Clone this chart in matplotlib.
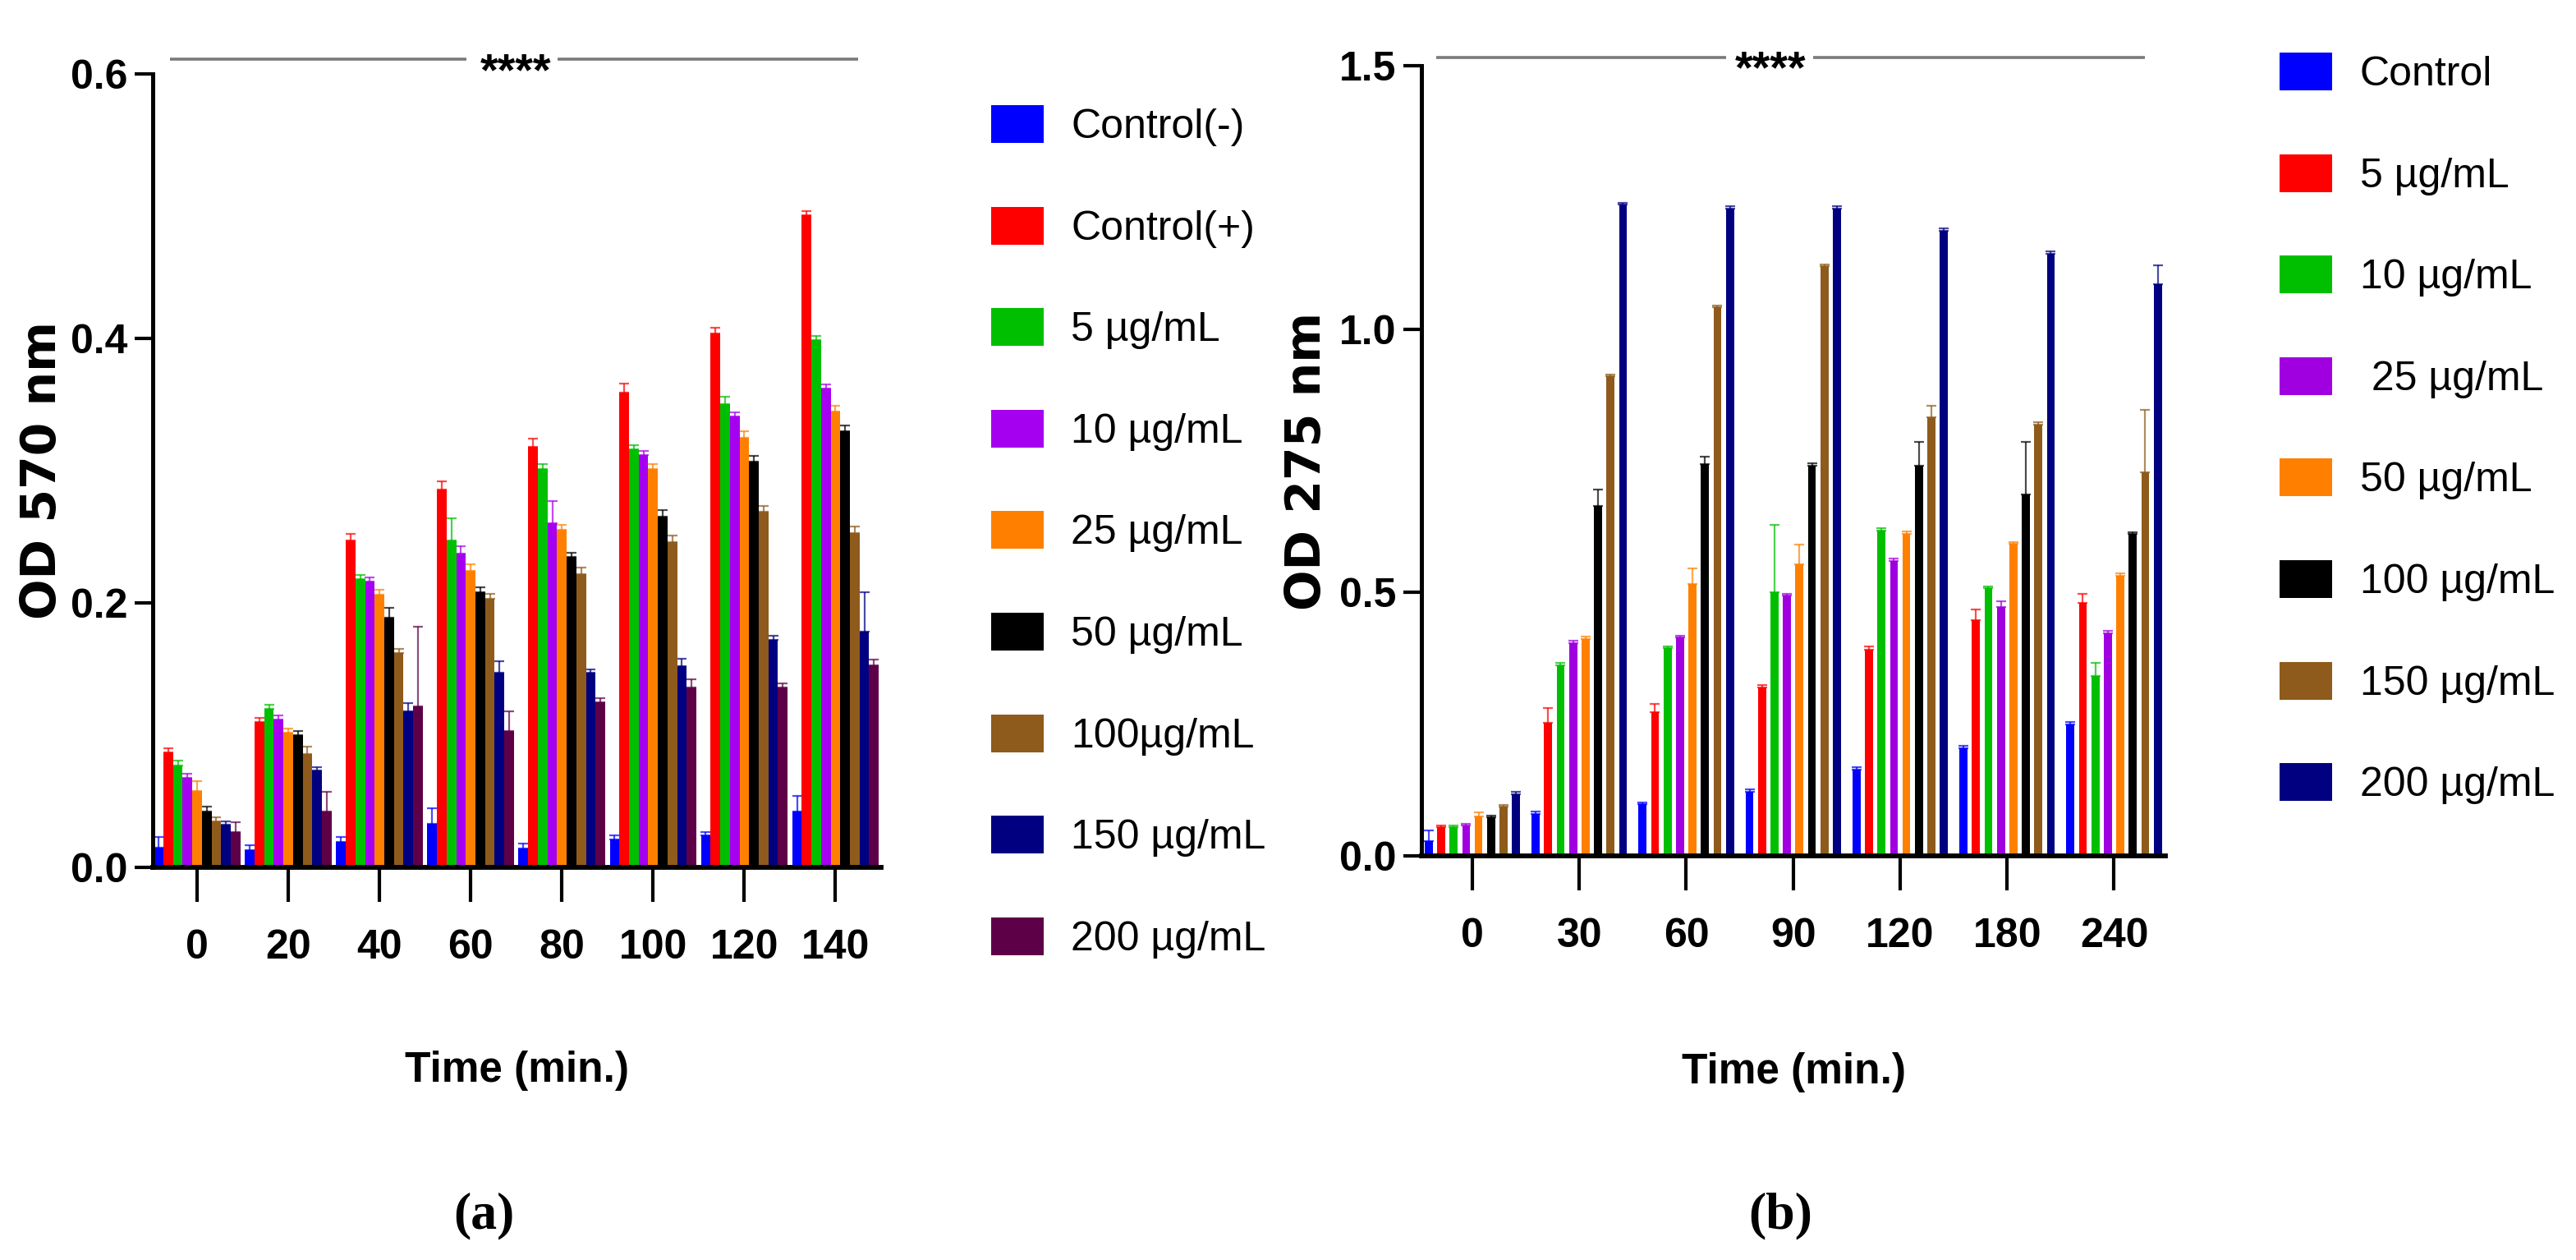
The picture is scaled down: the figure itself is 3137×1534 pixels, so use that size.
import numpy as np
import matplotlib
matplotlib.use('Agg')
import matplotlib.pyplot as plt

SANS = ['Liberation Sans', 'DejaVu Sans']

# ---- panel (a): OD 570 nm ----
times_a = ['0', '20', '40', '60', '80', '100', '120', '140']
labels_a = ['Control(-)', 'Control(+)', '5 µg/mL', '10 µg/mL', '25 µg/mL',
            '50 µg/mL', '100µg/mL', '150 µg/mL', '200 µg/mL']
colors_a = ['#0000ff', '#ff0000', '#00bf00', '#a600f0', '#ff8000',
            '#000000', '#8e5b1c', '#000080', '#5e0048']

a_ctrl_neg = [0.015, 0.013, 0.019, 0.033, 0.014, 0.021, 0.024, 0.042]
a_ctrl_pos = [0.087, 0.110, 0.247, 0.286, 0.318, 0.359, 0.404, 0.493]
a_5 = [0.077, 0.120, 0.218, 0.247, 0.301, 0.316, 0.350, 0.399]
a_10 = [0.068, 0.112, 0.216, 0.237, 0.260, 0.312, 0.341, 0.362]
a_25 = [0.058, 0.102, 0.206, 0.224, 0.255, 0.301, 0.325, 0.345]
a_50 = [0.042, 0.100, 0.189, 0.208, 0.235, 0.265, 0.307, 0.330]
a_100 = [0.035, 0.086, 0.162, 0.203, 0.222, 0.246, 0.269, 0.253]
a_150 = [0.032, 0.073, 0.118, 0.147, 0.147, 0.152, 0.172, 0.178]
a_200 = [0.027, 0.042, 0.122, 0.103, 0.125, 0.136, 0.136, 0.153]

a_ctrl_neg_err = [0.008, 0.004, 0.004, 0.012, 0.004, 0.003, 0.003, 0.012]
a_ctrl_pos_err = [0.003, 0.003, 0.005, 0.006, 0.006, 0.007, 0.004, 0.003]
a_5_err = [0.004, 0.003, 0.003, 0.017, 0.004, 0.003, 0.006, 0.003]
a_10_err = [0.003, 0.003, 0.003, 0.006, 0.017, 0.003, 0.003, 0.003]
a_25_err = [0.007, 0.003, 0.004, 0.005, 0.004, 0.004, 0.005, 0.004]
a_50_err = [0.004, 0.003, 0.007, 0.004, 0.003, 0.005, 0.004, 0.004]
a_100_err = [0.003, 0.005, 0.003, 0.004, 0.005, 0.005, 0.004, 0.005]
a_150_err = [0.003, 0.003, 0.006, 0.009, 0.003, 0.006, 0.003, 0.030]
a_200_err = [0.007, 0.015, 0.060, 0.015, 0.003, 0.006, 0.003, 0.004]

# ---- panel (b): OD 275 nm ----
times_b = ['0', '30', '60', '90', '120', '180', '240']
labels_b = ['Control', '5 µg/mL', '10 µg/mL', ' 25 µg/mL', '50 µg/mL',
            '100 µg/mL', '150 µg/mL', '200 µg/mL']
colors_b = ['#0000ff', '#ff0000', '#00bf00', '#a000e0', '#ff8000',
            '#000000', '#8e5b1c', '#000080']

b_ctrl = [0.028, 0.080, 0.098, 0.122, 0.164, 0.205, 0.250]
b_5 = [0.054, 0.253, 0.273, 0.320, 0.392, 0.448, 0.480]
b_10 = [0.054, 0.362, 0.394, 0.500, 0.618, 0.508, 0.341]
b_25 = [0.057, 0.404, 0.414, 0.494, 0.560, 0.472, 0.423]
b_50 = [0.075, 0.412, 0.516, 0.554, 0.612, 0.592, 0.532]
b_100 = [0.073, 0.665, 0.743, 0.741, 0.741, 0.686, 0.611]
b_150 = [0.093, 0.910, 1.041, 1.119, 0.832, 0.819, 0.728]
b_200 = [0.117, 1.236, 1.229, 1.229, 1.187, 1.143, 1.086]

b_ctrl_err = [0.020, 0.004, 0.004, 0.004, 0.004, 0.004, 0.004]
b_5_err = [0.004, 0.028, 0.015, 0.004, 0.005, 0.020, 0.018]
b_10_err = [0.004, 0.004, 0.004, 0.128, 0.004, 0.004, 0.026]
b_25_err = [0.004, 0.004, 0.004, 0.004, 0.004, 0.012, 0.004]
b_50_err = [0.008, 0.004, 0.030, 0.037, 0.004, 0.004, 0.004]
b_100_err = [0.004, 0.030, 0.015, 0.004, 0.045, 0.100, 0.004]
b_150_err = [0.004, 0.004, 0.004, 0.004, 0.022, 0.004, 0.118]
b_200_err = [0.004, 0.004, 0.004, 0.004, 0.004, 0.004, 0.035]

means_a = [a_ctrl_neg, a_ctrl_pos, a_5, a_10, a_25, a_50, a_100, a_150, a_200]
errs_a = [a_ctrl_neg_err, a_ctrl_pos_err, a_5_err, a_10_err, a_25_err,
          a_50_err, a_100_err, a_150_err, a_200_err]
means_b = [b_ctrl, b_5, b_10, b_25, b_50, b_100, b_150, b_200]
errs_b = [b_ctrl_err, b_5_err, b_10_err, b_25_err, b_50_err, b_100_err,
          b_150_err, b_200_err]


def draw_bars(ax, means, errs, colors, slot, width):
	n = len(means)
	handles = []
	for j in range(n):
		x = np.arange(len(means[j])) + (j - (n - 1) / 2.0) * slot
		h = ax.bar(x, means[j], width=width, color=colors[j], linewidth=0, zorder=2)
		handles.append(h)
		ax.errorbar(x, means[j], yerr=[np.zeros(len(errs[j])), errs[j]], fmt='none',
					ecolor=colors[j], elinewidth=1.6, capsize=4, capthick=1.6,
					alpha=0.7, zorder=1)
	return handles


def style_axes(ax, cats, yticks, ylabel, xlim, ylim):
	ax.set_xlim(*xlim)
	ax.set_ylim(*ylim)
	ax.set_xticks(np.arange(len(cats)))
	ax.set_xticklabels(cats, fontfamily=SANS, fontweight='bold', fontsize=36)
	ax.set_yticks(yticks)
	ax.set_yticklabels(['%.1f' % t for t in yticks], fontfamily=SANS,
					   fontweight='bold', fontsize=36)
	for s in ['top', 'right']:
		ax.spines[s].set_visible(False)
	ax.spines['left'].set_linewidth(3.6)
	ax.spines['bottom'].set_linewidth(4.2)
	ax.tick_params(axis='x', length=30, width=3, pad=24)
	ax.tick_params(axis='y', length=16, width=3, pad=6)
	ax.set_ylabel(ylabel, fontfamily='DejaVu Sans', fontweight='bold', fontsize=42)
	ax.set_xlabel('Time (min.)', fontfamily=SANS, fontweight='bold', fontsize=37)
	ax.xaxis.label.set_va('center')


def sig_bar(ax, segs, ystar, xstar):
	for x0, x1 in segs:
		ax.plot([x0, x1], [ystar, ystar], color='#7a7a7a', lw=2.6, clip_on=False,
				solid_capstyle='butt')
	ax.annotate('****', xy=(xstar, ystar), xytext=(0, -22), textcoords='offset points',
				ha='center', va='baseline', fontfamily=SANS, fontweight='bold',
				fontsize=40, annotation_clip=False)


def add_legend(fig, ax, handles, labels, x, y):
	ax.legend(handles, labels, loc='upper left', bbox_to_anchor=(x, y),
			  bbox_transform=fig.transFigure, frameon=False,
			  prop={'family': SANS, 'size': 36}, handlelength=1.27,
			  handleheight=1.04, handletextpad=0.68, labelspacing=1.47,
			  borderpad=0, borderaxespad=0)


def main():
	fig = plt.figure(figsize=(31.37, 15.34), dpi=100)
	W, H = 3137.0, 1534.0

	ax1 = fig.add_axes([186 / W, 1 - 1056 / H, (1073 - 186) / W, (1056 - 90) / H])
	h1 = draw_bars(ax1, means_a, errs_a, colors_a, 0.95 / 9, 0.95 / 9)
	style_axes(ax1, times_a, [0.0, 0.2, 0.4, 0.6], 'OD 570 nm', (-0.486, 7.5), (0, 0.6))
	ax1.yaxis.set_label_coords(-0.12, 0.5)
	ax1.xaxis.set_label_coords(0.5, -0.2567)
	sig_bar(ax1, [(-0.30, 2.95), (3.95, 7.25)], 0.611, 3.49)
	add_legend(fig, ax1, h1, labels_a, 1207 / W, 1 - 128 / H)

	ax2 = fig.add_axes([1731 / W, 1 - 1042 / H, (2637 - 1731) / W, (1042 - 80) / H])
	h2 = draw_bars(ax2, means_b, errs_b, colors_b, 0.1167, 0.075)
	style_axes(ax2, times_b, [0.0, 0.5, 1.0, 1.5], 'OD 275 nm', (-0.476, 6.48), (0, 1.5))
	ax2.yaxis.set_label_coords(-0.123, 0.5)
	ax2.xaxis.set_label_coords(0.5, -0.2734)
	sig_bar(ax2, [(-0.34, 2.37), (3.19, 6.29)], 1.516, 2.79)
	add_legend(fig, ax2, h2, labels_b, 2776 / W, 1 - 64 / H)

	fig.text(589 / W, 1 - 1480 / H, '(a)', ha='center', va='center',
			 fontfamily='Liberation Serif', fontweight='bold', fontsize=46)
	fig.text(2168 / W, 1 - 1480 / H, '(b)', ha='center', va='center',
			 fontfamily='Liberation Serif', fontweight='bold', fontsize=46)

	fig.savefig('out.png', dpi=100, facecolor='white')


if __name__ == '__main__':
	main()
